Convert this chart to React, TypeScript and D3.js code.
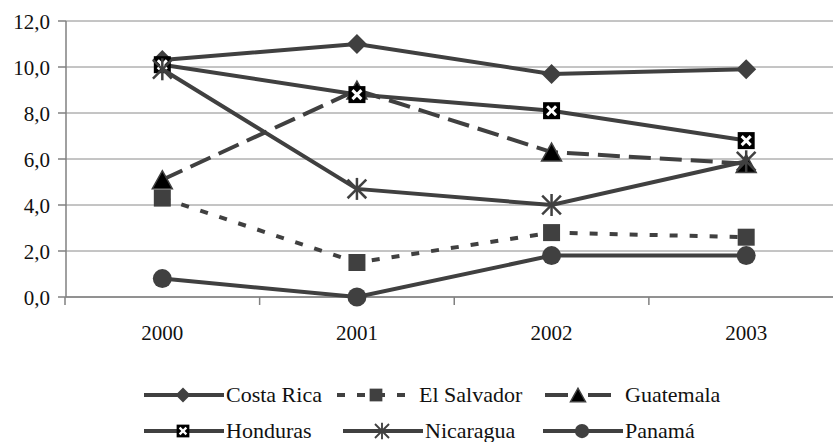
import React from "react";
import * as d3 from "d3";

const years = ["2000", "2001", "2002", "2003"];
const costaRica = [10.3, 11.0, 9.7, 9.9];
const elSalvador = [4.3, 1.5, 2.8, 2.6];
const guatemala = [5.1, 9.0, 6.3, 5.8];
const honduras = [10.1, 8.8, 8.1, 6.8];
const nicaragua = [9.9, 4.7, 4.0, 5.9];
const panama = [0.8, 0.0, 1.8, 1.8];
const yTicks = [0, 2, 4, 6, 8, 10, 12];

type MarkerType = "diamond" | "square" | "triangle" | "xsquare" | "star" | "circle";

const seriesNames = ["Costa Rica", "El Salvador", "Guatemala", "Honduras", "Nicaragua", "Panamá"];
const seriesValues = [costaRica, elSalvador, guatemala, honduras, nicaragua, panama];
const seriesMarkers: MarkerType[] = ["diamond", "square", "triangle", "xsquare", "star", "circle"];
const seriesDash = ["none", "8,12", "22,9", "none", "none", "none"];

const W = 833;
const H = 442;
const LINE = "#404040";
const FONT = "Liberation Serif, DejaVu Serif, serif";

function Marker({ type, cx, cy, s }: { type: MarkerType; cx: number; cy: number; s: number }) {
  if (type === "diamond") {
    const r = 10 * s;
    return <polygon points={`${cx},${cy - r} ${cx + r},${cy} ${cx},${cy + r} ${cx - r},${cy}`} fill={LINE} />;
  }
  if (type === "square") {
    const r = 8.5 * s;
    return <rect x={cx - r} y={cy - r} width={2 * r} height={2 * r} fill={LINE} />;
  }
  if (type === "triangle") {
    const w = 10 * s;
    const h = 9 * s;
    return (
      <polygon
        points={`${cx},${cy - h} ${cx + w},${cy + h} ${cx - w},${cy + h}`}
        fill="#000"
        stroke={LINE}
        strokeWidth={1.5}
      />
    );
  }
  if (type === "xsquare") {
    const r = 8.5 * s;
    const q = 4.5 * s;
    return (
      <g>
        <rect x={cx - r} y={cy - r} width={2 * r} height={2 * r} fill="#000" />
        <line x1={cx - q} y1={cy - q} x2={cx + q} y2={cy + q} stroke="#fff" strokeWidth={3 * s} />
        <line x1={cx - q} y1={cy + q} x2={cx + q} y2={cy - q} stroke="#fff" strokeWidth={3 * s} />
      </g>
    );
  }
  if (type === "star") {
    const r = 11 * s;
    const d = r * 0.85;
    return (
      <g stroke={LINE} strokeWidth={2.5 * s}>
        <line x1={cx} y1={cy - r} x2={cx} y2={cy + r} />
        <line x1={cx - d} y1={cy - d} x2={cx + d} y2={cy + d} />
        <line x1={cx - d} y1={cy + d} x2={cx + d} y2={cy - d} />
      </g>
    );
  }
  return <circle cx={cx} cy={cy} r={9.5 * s} fill={LINE} />;
}

export default function App() {
  const x = d3.scaleBand<string>().domain(years).range([65, 843.5]).padding(0);
  const y = d3.scaleLinear().domain([0, 12]).range([297, 21]);
  const cx = (yr: string) => (x(yr) as number) + x.bandwidth() / 2;
  const fmt = (v: number) => d3.format(".1f")(v).replace(".", ",");
  const line = d3
    .line<number>()
    .x((_, i) => cx(years[i]))
    .y((v) => y(v));

  const boundaries = years.map((yr) => x(yr) as number).concat([(x(years[3]) as number) + x.bandwidth()]);

  const legendItems = [
    { i: 0, lx: 144, ly: 395 },
    { i: 1, lx: 337, ly: 395 },
    { i: 2, lx: 545, ly: 395 },
    { i: 3, lx: 144, ly: 431 },
    { i: 4, lx: 343, ly: 431 },
    { i: 5, lx: 543, ly: 431 },
  ];

  const textStyle = { fontFamily: FONT, fontSize: "21px" };
  const legendStyle = { fontFamily: FONT, fontSize: "22px" };

  return (
    <svg width={W} height={H} style={{ position: "absolute", left: 0, top: 0, background: "#fff" }}>
      <rect x={0} y={0} width={W} height={H} fill="#fff" />
      {yTicks.map((t) => (
        <line key={"g" + t} x1={66} x2={W} y1={y(t)} y2={y(t)} stroke="#8a8a8a" strokeWidth={1} />
      ))}
      <line x1={66} x2={66} y1={21} y2={297} stroke="#808080" strokeWidth={1.5} />
      {yTicks.map((t) => (
        <g key={"yt" + t}>
          <line x1={58} x2={66} y1={y(t)} y2={y(t)} stroke="#808080" strokeWidth={1.5} />
          <text x={50} y={y(t) + 8} textAnchor="end" style={textStyle} fill="#111">
            {fmt(t)}
          </text>
        </g>
      ))}
      <line x1={66} x2={W} y1={297} y2={297} stroke="#808080" strokeWidth={1.5} />
      {boundaries.map((b, i) => (
        <line key={"xt" + i} x1={b} x2={b} y1={297} y2={305} stroke="#808080" strokeWidth={1.5} />
      ))}
      {years.map((yr) => (
        <text key={"xl" + yr} x={cx(yr)} y={340} textAnchor="middle" style={textStyle} fill="#111">
          {yr}
        </text>
      ))}
      {seriesValues.map((vals, si) => (
        <g key={"s" + si}>
          <path
            d={line(vals) as string}
            fill="none"
            stroke={LINE}
            strokeWidth={4}
            strokeDasharray={seriesDash[si]}
          />
          {vals.map((v, i) => (
            <Marker key={i} type={seriesMarkers[si]} cx={cx(years[i])} cy={y(v)} s={1} />
          ))}
        </g>
      ))}
      {legendItems.map(({ i, lx, ly }) => {
        const dash = i === 2 ? "23,20,23,100" : seriesDash[i];
        const len = i === 2 ? 66 : 80;
        return (
          <g key={"lg" + i}>
            <line x1={lx} x2={lx + len} y1={ly} y2={ly} stroke={LINE} strokeWidth={4} strokeDasharray={dash} />
            <Marker type={seriesMarkers[i]} cx={i === 2 ? lx + 33 : lx + 39} cy={ly} s={0.75} />
            <text x={i === 2 ? lx + 80 : lx + 82} y={ly + 7} style={legendStyle} fill="#111">
              {seriesNames[i]}
            </text>
          </g>
        );
      })}
    </svg>
  );
}
